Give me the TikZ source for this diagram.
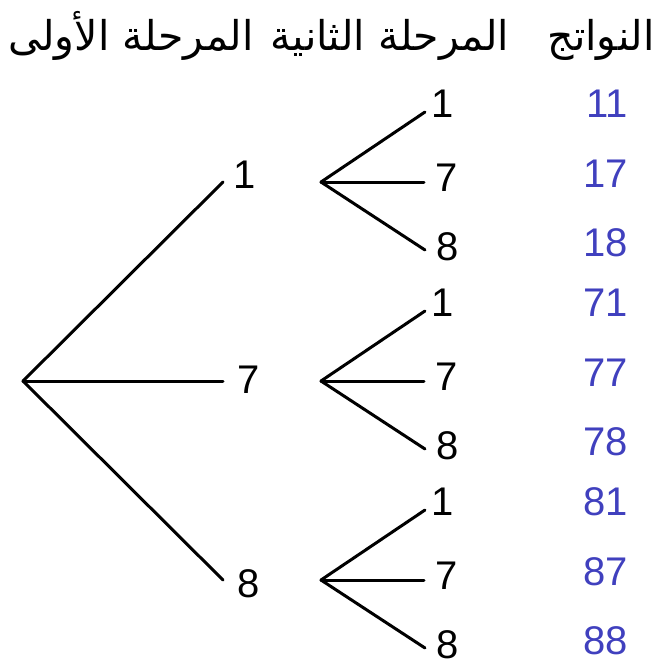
\documentclass[tikz,border=0pt]{standalone}
\usepackage{fontspec}
\setmainfont{Liberation Sans}
\newfontfamily\arabicfont[Script=Arabic]{DejaVu Sans}
\TeXXeTstate=1
\usepackage{xcolor}
\definecolor{outblue}{RGB}{64,64,190}
\usetikzlibrary{calc}

\begin{document}
\begin{tikzpicture}[x=0.5pt,y=-0.5pt]
  \tikzstyle{branch}=[line width=1.5pt,line cap=round]
  \tikzstyle{digit}=[font=\fontsize{20}{24}\selectfont,inner sep=0pt,anchor=base west]
  \tikzstyle{result}=[digit,anchor=base east,text=outblue]
  \tikzstyle{stage}=[font=\arabicfont\fontsize{20.5}{25}\selectfont,inner sep=0pt,anchor=base]
  \useasboundingbox (0,0) rectangle (663,666);
  \node[stage] (h1) at (131,50) {\beginR المرحلة الأولى\endR};
  \node[stage] (h2) at (390,50) {\beginR المرحلة الثانية\endR};
  \node[stage] (h3) at (601,50) {\beginR النواتج\endR};
  \coordinate (root) at (23,381);
  \foreach \g/\d/\y/\lx/\ly in {1/1/182/233/188, 2/7/381/237/393, 3/8/580/237/597} {
    \node[digit] (a\g) at (\lx,\ly) {\d};
    \draw[branch] (root) -- ([shift={({223-\lx},{\y-\ly})}]a\g.base west);
    \coordinate (f\g) at (321,\y);
    \foreach \k/\e/\bx/\by/\ex/\ey/\oy in {1/1/110/-65/-6/-5/-65, 2/7/114/9/-11/-9/5, 3/8/115/78/-11/-10/74} {
      \node[digit] (b\g\k) at ({321+\bx},{\y+\by}) {\e};
      \draw[branch] (f\g) -- ([shift={(\ex,\ey)}]b\g\k.base west);
      \node[result] (c\g\k) at (628,{\y+\oy}) {\d\e};
    }
  }
\end{tikzpicture}
\end{document}
